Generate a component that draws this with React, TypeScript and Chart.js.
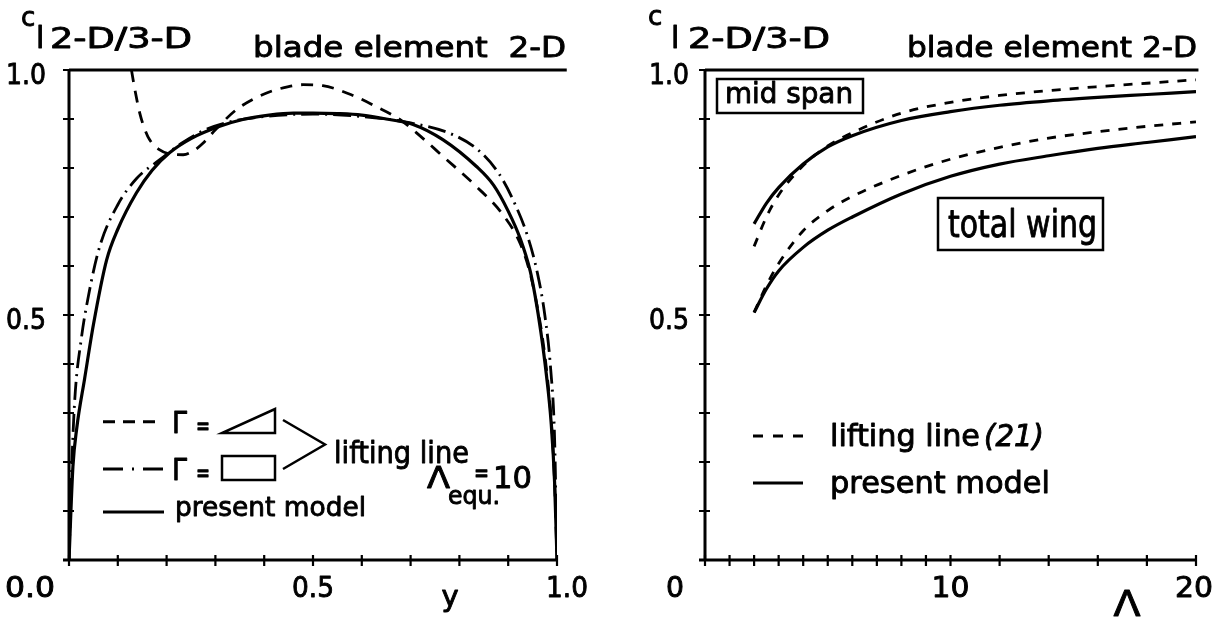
import React, { useEffect, useRef } from "react";
import { Chart, registerables } from "chart.js";

Chart.register(...registerables);

// ---------------- Left panel: c_l 2-D/3-D along the span y (Λ_equ. = 10) ----------------
const spanPresent = [0, 0.008, 0.016, 0.032, 0.05, 0.077, 0.1, 0.138, 0.17, 0.206, 0.25, 0.309, 0.36, 0.41, 0.46, 0.5, 0.55, 0.6, 0.65, 0.705, 0.766, 0.835, 0.87, 0.9, 0.925, 0.945, 0.955, 0.967, 0.978, 0.988, 0.995, 1.0];
const clPresent = [0, 0.19, 0.27, 0.37, 0.48, 0.612, 0.675, 0.749, 0.795, 0.831, 0.86, 0.885, 0.9, 0.908, 0.912, 0.912, 0.911, 0.908, 0.9, 0.889, 0.858, 0.803, 0.765, 0.712, 0.655, 0.59, 0.54, 0.465, 0.38, 0.28, 0.16, 0];

const spanRect = [0, 0.006, 0.012, 0.025, 0.04, 0.063, 0.1, 0.138, 0.186, 0.23, 0.275, 0.32, 0.4, 0.5, 0.6, 0.7, 0.787, 0.838, 0.88, 0.91, 0.94, 0.96, 0.975, 0.987, 0.995, 1.0];
const clRect = [0, 0.2, 0.33, 0.45, 0.54, 0.64, 0.725, 0.778, 0.817, 0.85, 0.876, 0.892, 0.905, 0.91, 0.905, 0.892, 0.868, 0.837, 0.79, 0.735, 0.66, 0.585, 0.5, 0.39, 0.25, 0];

const spanTri = [0.128, 0.135, 0.145, 0.155, 0.165, 0.186, 0.21, 0.234, 0.255, 0.275, 0.3, 0.343, 0.405, 0.45, 0.48, 0.52, 0.582, 0.63, 0.678, 0.72, 0.766, 0.835, 0.889, 0.925, 0.945, 0.958, 0.97, 0.98, 0.989, 0.995, 1.0];
const clTri = [1.0, 0.96, 0.912, 0.88, 0.858, 0.837, 0.828, 0.827, 0.835, 0.851, 0.878, 0.919, 0.953, 0.966, 0.97, 0.968, 0.948, 0.925, 0.899, 0.865, 0.824, 0.762, 0.705, 0.645, 0.585, 0.525, 0.455, 0.375, 0.275, 0.16, 0];

const bladeSpan = [0, 1.02];
const bladeCl = [1, 1];

const leftXTicks = [0, 0.1, 0.2, 0.3, 0.4, 0.5, 0.6, 0.7, 0.8, 0.9, 1.0];
const leftXLabelValues = [0, 0.5, 1.0];
const leftXLabels = ["0.0", "0.5", "1.0"];

const clTicks = [0.1, 0.2, 0.3, 0.4, 0.5, 0.6, 0.7, 0.8, 0.9, 1.0];
const clLabelValues = [0.5, 1.0];
const clLabels = ["0.5", "1.0"];

// ---------------- Right panel: c_l 2-D/3-D versus aspect ratio Λ ----------------
const aspectRatio = [2, 2.5, 3, 4, 5, 6, 8, 10, 12, 14, 16, 18, 20];
const midSpanLifting = [0.64, 0.7, 0.745, 0.805, 0.845, 0.872, 0.912, 0.934, 0.948, 0.958, 0.966, 0.973, 0.98];
const midSpanPresent = [0.686, 0.728, 0.76, 0.808, 0.843, 0.866, 0.897, 0.915, 0.928, 0.937, 0.944, 0.95, 0.956];
const totalWingLifting = [0.505, 0.56, 0.605, 0.672, 0.713, 0.742, 0.785, 0.818, 0.842, 0.861, 0.874, 0.885, 0.894];
const totalWingPresent = [0.505, 0.553, 0.59, 0.638, 0.673, 0.7, 0.747, 0.783, 0.808, 0.825, 0.84, 0.852, 0.864];
const bladeAspect = [0, 20.1];

const rightXTicks = [0, 1, 2, 3, 4, 5, 6, 7, 8, 9, 10, 12, 14, 16, 18, 20];
const rightXLabelValues = [0, 10, 20];
const rightXLabels = ["0", "10", "20"];

// ---------------- drawing helpers ----------------
const FONT = '"DejaVu Sans", "Liberation Sans", sans-serif';

type TextSpec = { t: string; x: number; y: number; size: number; align?: CanvasTextAlign; w?: number; italic?: boolean };

function drawText(ctx: CanvasRenderingContext2D, s: TextSpec, ox: number) {
  ctx.save();
  ctx.font = `${s.italic ? "italic " : ""}${s.size}px ${FONT}`;
  ctx.fillStyle = "#000";
  ctx.strokeStyle = "#000";
  ctx.lineWidth = 0.9;
  ctx.lineJoin = "round";
  ctx.setLineDash([]);
  ctx.textBaseline = "alphabetic";
  ctx.textAlign = s.align ?? "left";
  const m = ctx.measureText(s.t).width;
  const sx = s.w ? s.w / m : 1;
  ctx.translate(s.x - ox, s.y);
  ctx.scale(sx, 1);
  ctx.fillText(s.t, 0, 0);
  ctx.strokeText(s.t, 0, 0);
  ctx.restore();
}

function series(xs: number[], ys: number[]) {
  return xs.map((x, i) => ({ x, y: ys[i] }));
}

function lineDs(xs: number[], ys: number[], dash: number[], width = 3, extra: any = {}) {
  return {
    data: series(xs, ys),
    borderColor: "#000",
    backgroundColor: "#000",
    borderWidth: width,
    borderDash: dash,
    pointRadius: 0,
    fill: false,
    cubicInterpolationMode: "monotone",
    ...extra,
  };
}

type PanelCfg = {
  ox: number;
  xMin: number;
  xMax: number;
  xTicks: number[];
  xLabelValues: number[];
  xLabels: string[];
  labelDx: number[];
  labelAlign: CanvasTextAlign[];
  labelW: number[];
  yLabelRight: number;
  texts: TextSpec[];
  extra: (ctx: CanvasRenderingContext2D, ox: number) => void;
};

function paperPlugin(cfg: PanelCfg) {
  return {
    id: "paper" + cfg.ox,
    afterDatasetsDraw(chart: any) {
      const ctx: CanvasRenderingContext2D = chart.ctx;
      const xs = chart.scales.x;
      const ys = chart.scales.y;
      const x0 = xs.getPixelForValue(cfg.xMin);
      const x1 = xs.getPixelForValue(cfg.xMax);
      const y0 = ys.getPixelForValue(0);
      const y1 = ys.getPixelForValue(1);
      ctx.save();
      ctx.strokeStyle = "#000";
      ctx.lineCap = "butt";
      ctx.setLineDash([]);
      ctx.lineWidth = 3;
      ctx.beginPath();
      ctx.moveTo(x0, y0 + 1.5);
      ctx.lineTo(x0, y1);
      ctx.moveTo(x0 - 6, y0);
      ctx.lineTo(x1 + 1, y0);
      ctx.stroke();
      ctx.lineWidth = 2.2;
      ctx.beginPath();
      for (const v of cfg.xTicks) {
        const px = xs.getPixelForValue(v);
        ctx.moveTo(px, y0 - 5);
        ctx.lineTo(px, y0 + 6);
      }
      for (const v of clTicks) {
        const py = ys.getPixelForValue(v);
        ctx.moveTo(x0 - 6, py);
        ctx.lineTo(x0 + 5, py);
      }
      ctx.stroke();
      ctx.restore();

      clLabelValues.forEach((v, i) => {
        const py = ys.getPixelForValue(v);
        drawText(ctx, { t: clLabels[i], x: cfg.yLabelRight, y: py + 14, size: 28, align: "right", w: 40 }, cfg.ox);
      });
      cfg.xLabelValues.forEach((v, i) => {
        const px = xs.getPixelForValue(v) + cfg.ox;
        drawText(
          ctx,
          { t: cfg.xLabels[i], x: px + cfg.labelDx[i], y: 597, size: 28, align: cfg.labelAlign[i], w: cfg.labelW[i] || undefined },
          cfg.ox
        );
      });

      cfg.texts.forEach((s) => drawText(ctx, s, cfg.ox));
      ctx.save();
      ctx.strokeStyle = "#000";
      cfg.extra(ctx, cfg.ox);
      ctx.restore();
    },
  };
}

function seg(ctx: CanvasRenderingContext2D, ox: number, xa: number, xb: number, y: number, dash: number[], w = 3) {
  ctx.setLineDash(dash);
  ctx.lineWidth = w;
  ctx.beginPath();
  ctx.moveTo(xa - ox, y);
  ctx.lineTo(xb - ox, y);
  ctx.stroke();
  ctx.setLineDash([]);
}

const leftCfg: PanelCfg = {
  ox: 0,
  xMin: 0,
  xMax: 1,
  xTicks: leftXTicks,
  xLabelValues: leftXLabelValues,
  xLabels: leftXLabels,
  labelDx: [-14, 0, 10],
  labelAlign: ["right", "center", "center"],
  labelW: [50, 42, 42],
  yLabelRight: 46,
  texts: [
    { t: "c", x: 21, y: 26, size: 26 },
    { t: "l", x: 36, y: 48, size: 30 },
    { t: "2-D/3-D", x: 50, y: 48, size: 28, w: 142 },
    { t: "blade element  2-D", x: 253, y: 57, size: 29, w: 313 },
    { t: "y", x: 450, y: 606, size: 29, align: "center" },
    { t: "Γ", x: 172, y: 433, size: 31, w: 15 },
    { t: "=", x: 196, y: 435, size: 26, w: 14 },
    { t: "Γ", x: 172, y: 480, size: 31, w: 15 },
    { t: "=", x: 196, y: 482, size: 26, w: 14 },
    { t: "lifting line", x: 334, y: 463, size: 30, w: 135 },
    { t: "present model", x: 175, y: 516, size: 27, w: 191 },
    { t: "Λ", x: 427, y: 488, size: 31, w: 23 },
    { t: "equ.", x: 448, y: 504, size: 24, w: 52 },
    { t: "=", x: 474, y: 482, size: 26, w: 15 },
    { t: "10", x: 493, y: 488, size: 30, w: 39 },
  ],
  extra: (ctx, ox) => {
    seg(ctx, ox, 103, 158, 421.7, [12, 8]);
    seg(ctx, ox, 103, 165, 469, [20, 9, 2, 9]);
    seg(ctx, ox, 103, 164, 512, []);
    ctx.lineWidth = 2.5;
    ctx.beginPath();
    ctx.moveTo(222 - ox, 433);
    ctx.lineTo(275 - ox, 433);
    ctx.lineTo(275 - ox, 409);
    ctx.closePath();
    ctx.stroke();
    ctx.strokeRect(222 - ox, 456, 53, 24);
    ctx.beginPath();
    ctx.moveTo(283 - ox, 420);
    ctx.lineTo(325 - ox, 444.5);
    ctx.lineTo(283 - ox, 469);
    ctx.stroke();
  },
};

const rightCfg: PanelCfg = {
  ox: 612,
  xMin: 0,
  xMax: 20,
  xTicks: rightXTicks,
  xLabelValues: rightXLabelValues,
  xLabels: rightXLabels,
  labelDx: [-21, 0, -2],
  labelAlign: ["right", "center", "center"],
  labelW: [18, 38, 38],
  yLabelRight: 689,
  texts: [
    { t: "c", x: 648, y: 25, size: 26 },
    { t: "l", x: 671, y: 48, size: 30 },
    { t: "2-D/3-D", x: 688, y: 48, size: 28, w: 142 },
    { t: "blade element 2-D", x: 907, y: 57, size: 29, w: 290 },
    { t: "Λ", x: 1127, y: 616, size: 36, align: "center", w: 27 },
    { t: "mid span", x: 725, y: 103, size: 29, w: 128 },
    { t: "total wing", x: 948, y: 237, size: 37, w: 149 },
    { t: "lifting line", x: 830, y: 446, size: 30, w: 150 },
    { t: "(21)", x: 984, y: 446, size: 30, italic: true, w: 60 },
    { t: "present model", x: 830, y: 493, size: 30, w: 220 },
  ],
  extra: (ctx, ox) => {
    seg(ctx, ox, 753, 803, 436, [10, 10]);
    seg(ctx, ox, 753, 803, 483, []);
    ctx.lineWidth = 2.5;
    ctx.strokeRect(717 - ox, 79, 146, 34);
    ctx.strokeRect(938 - ox, 198, 165, 52);
  },
};

function baseOptions(xMin: number, xMax: number, padding: any) {
  return {
    responsive: false,
    animation: false,
    events: [],
    layout: { padding },
    scales: {
      x: { type: "linear", min: xMin, max: xMax, display: false },
      y: { type: "linear", min: 0, max: 1, display: false },
    },
    plugins: { legend: { display: false }, tooltip: { enabled: false } },
  };
}

export default function App() {
  const leftRef = useRef<HTMLCanvasElement>(null);
  const rightRef = useRef<HTMLCanvasElement>(null);

  useEffect(() => {
    const left = new Chart(leftRef.current as HTMLCanvasElement, {
      type: "line",
      data: {
        datasets: [
          lineDs(bladeSpan, bladeCl, [], 3.2, { cubicInterpolationMode: "default", tension: 0, clip: false }),
          lineDs(spanTri, clTri, [12, 9], 2.8),
          lineDs(spanRect, clRect, [18, 6, 2, 6], 2.8),
          lineDs(spanPresent, clPresent, [], 3.2),
        ] as any,
      },
      options: baseOptions(0, 1, { left: 69, right: 55, top: 70, bottom: 58 }) as any,
      plugins: [paperPlugin(leftCfg) as any],
    });
    const right = new Chart(rightRef.current as HTMLCanvasElement, {
      type: "line",
      data: {
        datasets: [
          lineDs(bladeAspect, [1, 1], [], 3.2, { cubicInterpolationMode: "default", tension: 0, clip: false }),
          lineDs(aspectRatio, midSpanLifting, [9, 9], 2.8),
          lineDs(aspectRatio, midSpanPresent, [], 3.2),
          lineDs(aspectRatio, totalWingLifting, [9, 9], 2.8),
          lineDs(aspectRatio, totalWingPresent, [], 3.2),
        ] as any,
      },
      options: baseOptions(0, 20, { left: 93, right: 28, top: 70, bottom: 58 }) as any,
      plugins: [paperPlugin(rightCfg) as any],
    });
    return () => {
      left.destroy();
      right.destroy();
    };
  }, []);

  return (
    <div style={{ position: "fixed", left: 0, top: 0, width: 1224, height: 618, background: "#fff", overflow: "hidden" }}>
      <canvas ref={leftRef} width={612} height={618} style={{ position: "absolute", left: 0, top: 0, width: 612, height: 618 }} />
      <canvas ref={rightRef} width={612} height={618} style={{ position: "absolute", left: 612, top: 0, width: 612, height: 618 }} />
    </div>
  );
}
